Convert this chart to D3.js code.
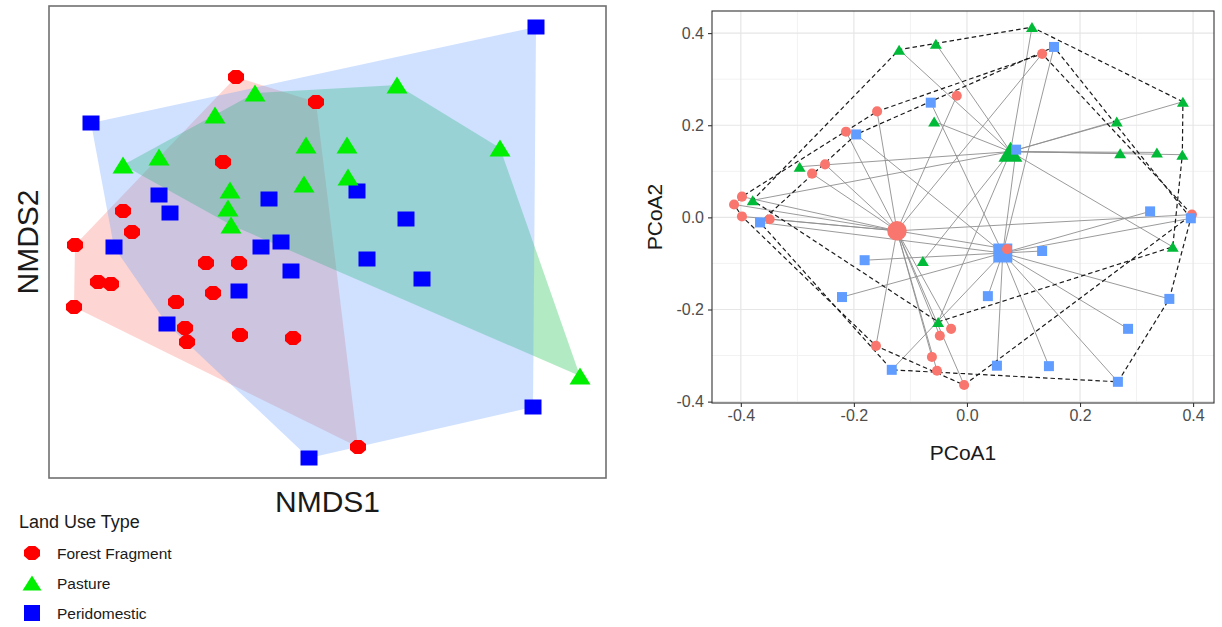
<!DOCTYPE html>
<html>
<head>
<meta charset="utf-8">
<script src="https://cdn.jsdelivr.net/npm/d3@7"></script>
<style>
  body { margin: 0; background: #fff; }
  text { font-family: "Liberation Sans", Arial, sans-serif; }
</style>
</head>
<body>
<svg id="chart" width="1222" height="627"></svg>
<script>
// ---------- data ----------
const groups = ["Forest Fragment", "Pasture", "Peridomestic"];

// NMDS scores [NMDS1, NMDS2]
const nmdsForest = [
  [-0.366, 0.660], [-0.046, 0.560], [-0.418, 0.320], [-0.818, 0.124], [-0.782, 0.040],
  [-1.010, -0.012], [-0.918, -0.160], [-0.866, -0.168], [-1.014, -0.260], [-0.486, -0.084],
  [-0.354, -0.084], [-0.458, -0.204], [-0.606, -0.240], [-0.570, -0.344], [-0.562, -0.400],
  [-0.350, -0.372], [-0.138, -0.384], [0.122, -0.820]
];
const nmdsPasture = [
  [-0.290, 0.596], [-0.450, 0.508], [-0.818, 0.308], [-0.674, 0.340], [-0.086, 0.388],
  [-0.390, 0.208], [-0.398, 0.136], [-0.386, 0.068], [-0.094, 0.232], [0.278, 0.628],
  [0.078, 0.388], [0.082, 0.260], [0.690, 0.376], [1.010, -0.536]
];
const nmdsPeri = [
  [0.834, 0.860], [-0.946, 0.476], [-0.674, 0.188], [-0.630, 0.116], [-0.234, 0.172],
  [0.118, 0.204], [0.314, 0.092], [-0.854, -0.020], [-0.266, -0.020], [-0.186, 0.000],
  [-0.146, -0.116], [-0.354, -0.196], [-0.642, -0.328], [0.158, -0.068], [0.378, -0.148],
  [0.822, -0.660], [-0.074, -0.864]
];

// PCoA scores [PCoA1, PCoA2]
const pcoaForest = [
  [-0.412, 0.028], [-0.398, 0.045], [-0.398, 0.002], [-0.349, -0.004], [-0.274, 0.095],
  [-0.251, 0.115], [-0.214, 0.186], [-0.159, 0.230], [-0.018, 0.264], [0.133, 0.355],
  [0.398, 0.006], [-0.161, -0.279], [-0.028, -0.242], [-0.048, -0.257], [-0.062, -0.303],
  [-0.053, -0.333], [-0.005, -0.364], [0.071, -0.069]
];
const pcoaPasture = [
  [-0.120, 0.364], [-0.055, 0.377], [-0.058, 0.208], [-0.296, 0.110], [-0.379, 0.037],
  [0.115, 0.413], [0.382, 0.251], [0.265, 0.208], [0.271, 0.139], [0.336, 0.141],
  [0.381, 0.136], [-0.078, -0.095], [-0.051, -0.227], [0.364, -0.064]
];
const pcoaPeri = [
  [-0.366, -0.011], [-0.196, 0.180], [-0.064, 0.249], [0.154, 0.370], [0.087, 0.147],
  [0.324, 0.013], [0.396, -0.002], [-0.181, -0.093], [-0.221, -0.173], [-0.133, -0.331],
  [0.133, -0.073], [0.037, -0.171], [0.358, -0.177], [0.285, -0.242], [0.053, -0.322],
  [0.145, -0.323], [0.267, -0.357]
];

const pcoaTicks = [-0.4, -0.2, 0.0, 0.2, 0.4];
const pcoaMinor = [-0.3, -0.1, 0.1, 0.3];

// ---------- styling ----------
const markColors = ["#ff0000", "#00ee00", "#0000ff"];
const hullFills = ["#F8766D", "#00BA38", "#619CFF"];
const pcoaColors = ["#F8766D", "#00BA38", "#619CFF"];

// ---------- marker shapes ----------
function octagon(w, h) {
  const pts = d3.range(8).map(k => {
    const a = Math.PI / 8 + k * Math.PI / 4;
    return [Math.cos(a) * w / 2 / Math.cos(Math.PI / 8), Math.sin(a) * h / 2 / Math.cos(Math.PI / 8)];
  });
  return "M" + pts.map(p => p.join(",")).join("L") + "Z";
}
function triangle(w, h) {
  return `M0,${-h / 2}L${w / 2},${h / 2}L${-w / 2},${h / 2}Z`;
}
function square(w, h) {
  return `M${-w / 2},${-h / 2}H${w / 2}V${h / 2}H${-w / 2}Z`;
}
const shapeFns = [octagon, triangle, square];

const svg = d3.select("#chart");

// ================= NMDS panel =================
const L = { x0: 49, x1: 606, y0: 6, y1: 478 };
const nx = d3.scaleLinear().domain([-1.114, 1.114]).range([L.x0, L.x1]);
const ny = d3.scaleLinear().domain([-0.944, 0.944]).range([L.y1, L.y0]);

const nmdsSets = [nmdsForest, nmdsPasture, nmdsPeri];
const left = svg.append("g");

// convex hulls, drawn forest → pasture → peridomestic
nmdsSets.forEach((set, i) => {
  const hull = d3.polygonHull(set.map(d => [nx(d[0]), ny(d[1])]));
  left.append("path")
    .attr("d", "M" + hull.join("L") + "Z")
    .attr("fill", hullFills[i])
    .attr("fill-opacity", 0.3)
    .attr("stroke", "none");
});

// points: peridomestic, pasture, forest on top
const nSizes = [[16, 14], [21, 17], [17, 15]];
[2, 1, 0].forEach(i => {
  left.selectAll(null).data(nmdsSets[i]).enter().append("path")
    .attr("transform", d => `translate(${nx(d[0])},${ny(d[1])})`)
    .attr("d", shapeFns[i](nSizes[i][0], nSizes[i][1]))
    .attr("fill", markColors[i]);
});

left.append("rect")
  .attr("x", L.x0).attr("y", L.y0)
  .attr("width", L.x1 - L.x0).attr("height", L.y1 - L.y0)
  .attr("fill", "none").attr("stroke", "#707070").attr("stroke-width", 1.6);

left.append("text")
  .attr("x", (L.x0 + L.x1) / 2).attr("y", 512)
  .attr("text-anchor", "middle").attr("font-size", 30).attr("fill", "#1a1a1a")
  .text("NMDS1");
left.append("text")
  .attr("transform", `translate(38,${(L.y0 + L.y1) / 2}) rotate(-90)`)
  .attr("text-anchor", "middle").attr("font-size", 30).attr("fill", "#1a1a1a")
  .text("NMDS2");

// legend
const legend = svg.append("g");
legend.append("text").attr("x", 19).attr("y", 528)
  .attr("font-size", 18).attr("fill", "#1a1a1a").text("Land Use Type");
const legSizes = [[16, 14], [19, 15], [16, 16]];
const legY = [553, 583, 613];
groups.forEach((g, i) => {
  legend.append("path")
    .attr("transform", `translate(32,${legY[i]})`)
    .attr("d", shapeFns[i](legSizes[i][0], legSizes[i][1]))
    .attr("fill", markColors[i]);
  legend.append("text").attr("x", 57).attr("y", legY[i] + 6)
    .attr("font-size", 15.5).attr("fill", "#1a1a1a").text(g);
});

// ================= PCoA panel =================
const R = { x0: 712, x1: 1214, y0: 11, y1: 403 };
const px = d3.scaleLinear().domain([-0.451, 0.437]).range([R.x0, R.x1]);
const py = d3.scaleLinear().domain([-0.403, 0.448]).range([R.y1, R.y0]);

const right = svg.append("g");
right.append("rect")
  .attr("x", R.x0).attr("y", R.y0)
  .attr("width", R.x1 - R.x0).attr("height", R.y1 - R.y0)
  .attr("fill", "#fff");

// grid
const grid = right.append("g");
pcoaMinor.forEach(v => {
  grid.append("line").attr("x1", px(v)).attr("x2", px(v)).attr("y1", R.y0).attr("y2", R.y1)
    .attr("stroke", "#f2f2f2").attr("stroke-width", 1);
  grid.append("line").attr("y1", py(v)).attr("y2", py(v)).attr("x1", R.x0).attr("x2", R.x1)
    .attr("stroke", "#f2f2f2").attr("stroke-width", 1);
});
pcoaTicks.forEach(v => {
  grid.append("line").attr("x1", px(v)).attr("x2", px(v)).attr("y1", R.y0).attr("y2", R.y1)
    .attr("stroke", "#e6e6e6").attr("stroke-width", 1.2);
  grid.append("line").attr("y1", py(v)).attr("y2", py(v)).attr("x1", R.x0).attr("x2", R.x1)
    .attr("stroke", "#e6e6e6").attr("stroke-width", 1.2);
});

const pcoaSets = [pcoaForest, pcoaPasture, pcoaPeri];
const centroids = pcoaSets.map(set => [d3.mean(set, d => d[0]), d3.mean(set, d => d[1])]);

// spokes from each sample to its group centroid
pcoaSets.forEach((set, i) => {
  right.selectAll(null).data(set).enter().append("line")
    .attr("x1", d => px(d[0])).attr("y1", d => py(d[1]))
    .attr("x2", px(centroids[i][0])).attr("y2", py(centroids[i][1]))
    .attr("stroke", "#8f8f8f").attr("stroke-width", 0.9);
});

// dashed hulls
pcoaSets.forEach(set => {
  const hull = d3.polygonHull(set.map(d => [px(d[0]), py(d[1])]));
  right.append("path")
    .attr("d", "M" + hull.join("L") + "Z")
    .attr("fill", "none").attr("stroke", "#1a1a1a")
    .attr("stroke-width", 1.2).attr("stroke-dasharray", "4.5,3");
});

// centroids (samples are drawn over them)
const cSizes = [[20, 20], [24, 20], [19, 19]];
centroids.forEach((c, i) => {
  right.append("path")
    .attr("transform", `translate(${px(c[0])},${py(c[1])})`)
    .attr("d", i === 0 ? d3.symbol(d3.symbolCircle, 300)() : shapeFns[i](cSizes[i][0], cSizes[i][1]))
    .attr("fill", pcoaColors[i]);
});

// samples
const pSizes = [[10, 10], [12, 10], [10, 10]];
pcoaSets.forEach((set, i) => {
  right.selectAll(null).data(set).enter().append("path")
    .attr("transform", d => `translate(${px(d[0])},${py(d[1])})`)
    .attr("d", i === 0 ? d3.symbol(d3.symbolCircle, 80)() : shapeFns[i](pSizes[i][0], pSizes[i][1]))
    .attr("fill", pcoaColors[i]);
});

right.append("rect")
  .attr("x", R.x0).attr("y", R.y0)
  .attr("width", R.x1 - R.x0).attr("height", R.y1 - R.y0)
  .attr("fill", "none").attr("stroke", "#333").attr("stroke-width", 1.1);

const fmt = d => d.toFixed(1);
const xAxis = right.append("g").attr("transform", `translate(0,${R.y1})`)
  .call(d3.axisBottom(px).tickValues(pcoaTicks).tickFormat(fmt).tickSize(4).tickPadding(3));
const yAxis = right.append("g").attr("transform", `translate(${R.x0},0)`)
  .call(d3.axisLeft(py).tickValues(pcoaTicks).tickFormat(fmt).tickSize(4).tickPadding(4));
[xAxis, yAxis].forEach(a => {
  a.select(".domain").remove();
  a.selectAll(".tick line").attr("stroke", "#333").attr("stroke-width", 1.1);
  a.selectAll(".tick text").attr("fill", "#4d4d4d").attr("font-size", 16)
    .attr("font-family", "Liberation Sans, Arial, sans-serif");
});

right.append("text")
  .attr("x", (R.x0 + R.x1) / 2).attr("y", 460)
  .attr("text-anchor", "middle").attr("font-size", 21).attr("fill", "#1a1a1a")
  .text("PCoA1");
right.append("text")
  .attr("transform", `translate(662,${(R.y0 + R.y1) / 2 + 10}) rotate(-90)`)
  .attr("text-anchor", "middle").attr("font-size", 21).attr("fill", "#1a1a1a")
  .text("PCoA2");
</script>
</body>
</html>
